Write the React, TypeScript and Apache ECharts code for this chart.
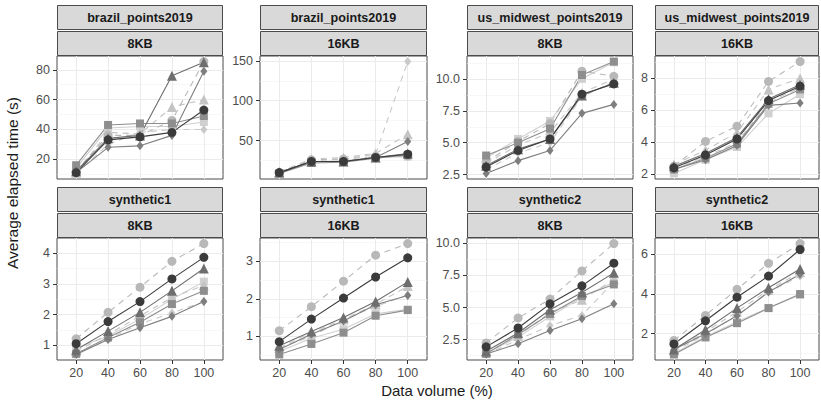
import React, { useEffect, useRef } from "react";
import * as echarts from "echarts";

// ---------- data ----------
const xValues = [20, 40, 60, 80, 100];

const datasetLabels = [
  "brazil_points2019", "brazil_points2019", "us_midwest_points2019", "us_midwest_points2019",
  "synthetic1", "synthetic1", "synthetic2", "synthetic2",
];
const blockLabels = ["8KB", "16KB", "8KB", "16KB", "8KB", "16KB", "8KB", "16KB"];

const seriesNames = [
  "circle-dark", "circle-light", "triangle-dark", "triangle-light",
  "square-dark", "square-light", "diamond-dark", "diamond-light",
];

// rows: one per series (order of seriesNames), columns: x = 20..100
const brazil8KB = [
  [11, 33, 35, 38, 53],
  [12, 36, 36, 46, 85.5],
  [12, 34, 36, 76, 85],
  [11, 38, 37, 55, 60],
  [16, 43, 44, 44, 49],
  [14, 41, 42, 42, 45],
  [11, 28, 29, 36, 79],
  [10.5, 30, 38, 40, 40],
];
const brazil16KB = [
  [10, 24, 24, 29, 33],
  [10, 26, 27, 30, 31],
  [10, 24, 24, 29, 34],
  [11, 27, 29, 34, 58],
  [9, 22, 23, 28, 32],
  [9, 23, 25, 29, 30],
  [10, 24, 24, 29, 49],
  [10, 25, 27, 33, 149],
];
const midwest8KB = [
  [3.1, 4.4, 5.3, 8.8, 9.6],
  [3.5, 5.1, 6.5, 10.6, 10.2],
  [3.2, 4.5, 5.3, 8.7, 9.7],
  [3.4, 4.8, 5.8, 8.9, 10.0],
  [4.0, 5.0, 6.1, 10.3, 11.35],
  [3.8, 5.3, 6.7, 10.0, 11.3],
  [2.6, 3.6, 4.4, 7.3, 8.0],
  [2.9, 4.2, 5.0, 8.6, 9.8],
];
const midwest16KB = [
  [2.4, 3.2, 4.2, 6.6, 7.5],
  [2.5, 4.05, 5.0, 7.8, 9.04],
  [2.5, 3.3, 4.3, 6.7, 7.6],
  [2.6, 3.5, 4.6, 7.3, 8.0],
  [2.3, 3.0, 3.9, 6.4, 7.3],
  [2.05, 2.9, 3.7, 5.8, 7.0],
  [2.3, 2.9, 3.8, 6.3, 6.45],
  [2.4, 3.1, 4.0, 6.5, 7.4],
];
const synthetic1_8KB = [
  [1.05, 1.77, 2.42, 3.16, 3.86],
  [1.21, 2.07, 2.89, 3.73, 4.31],
  [0.85, 1.46, 2.07, 2.77, 3.5],
  [0.8, 1.35, 1.95, 2.55, 2.95],
  [0.72, 1.25, 1.75, 2.34, 2.77],
  [0.9, 1.3, 1.85, 2.5, 3.07],
  [0.7, 1.19, 1.57, 1.94, 2.42],
  [0.72, 1.2, 1.7, 2.05, 2.42],
];
const synthetic1_16KB = [
  [0.86, 1.46, 2.02, 2.58, 3.09],
  [1.15, 1.79, 2.47, 3.16, 3.47],
  [0.75, 1.13, 1.5, 1.93, 2.45],
  [0.7, 1.0, 1.45, 1.85, 2.34],
  [0.52, 0.8, 1.1, 1.55, 1.7],
  [0.6, 0.95, 1.19, 1.6, 1.72],
  [0.65, 1.06, 1.41, 1.84, 2.09],
  [0.7, 1.1, 1.45, 1.8, 2.1],
];
const synthetic2_8KB = [
  [1.94, 3.41, 5.29, 6.69, 8.45],
  [2.25, 4.19, 5.66, 7.85, 9.98],
  [1.6, 3.02, 4.83, 6.17, 7.7],
  [1.5, 2.8, 4.6, 5.6, 7.2],
  [1.4, 2.9, 4.5, 5.9, 6.8],
  [1.45, 2.7, 4.31, 5.8, 6.98],
  [1.38, 2.19, 3.22, 4.13, 5.29],
  [1.35, 2.5, 3.6, 4.39, 7.0],
];
const synthetic2_16KB = [
  [1.48, 2.65, 3.84, 4.91, 6.25],
  [1.66, 2.92, 4.24, 5.55, 6.55],
  [1.2, 2.2, 3.29, 4.32, 5.26],
  [1.15, 2.1, 3.1, 4.2, 5.1],
  [0.95, 1.81, 2.53, 3.29, 4.0],
  [1.0, 1.85, 2.6, 3.3, 3.95],
  [1.2, 2.0, 2.9, 4.1, 5.0],
  [1.1, 1.95, 2.92, 4.1, 4.9],
];

const ticksBrazil8KB = [20, 40, 60, 80];
const ticksBrazil16KB = [50, 100, 150];
const ticksMidwest8KB = [2.5, 5.0, 7.5, 10.0];
const ticksMidwest16KB = [2, 4, 6, 8];
const ticksSynthetic1_8KB = [1, 2, 3, 4];
const ticksSynthetic1_16KB = [1, 2, 3];
const ticksSynthetic2_8KB = [2.5, 5.0, 7.5, 10.0];
const ticksSynthetic2_16KB = [2, 4, 6];

const panelValues = [brazil8KB, brazil16KB, midwest8KB, midwest16KB, synthetic1_8KB, synthetic1_16KB, synthetic2_8KB, synthetic2_16KB];
const panelTicks = [ticksBrazil8KB, ticksBrazil16KB, ticksMidwest8KB, ticksMidwest16KB, ticksSynthetic1_8KB, ticksSynthetic1_16KB, ticksSynthetic2_8KB, ticksSynthetic2_16KB];
const panelDecimals = [0, 0, 1, 0, 0, 0, 1, 0];

// ---------- styles ----------
const FONT = "Liberation Sans, Arial, sans-serif";
const seriesStyles = [
  { symbol: "circle", color: "#3b3b3b", dash: "solid", size: 9 },
  { symbol: "circle", color: "#b8b8b8", dash: [6, 5], size: 9 },
  { symbol: "triangle", color: "#6e6e6e", dash: "solid", size: 10 },
  { symbol: "triangle", color: "#c4c4c4", dash: [6, 5], size: 10 },
  { symbol: "rect", color: "#8e8e8e", dash: "solid", size: 8 },
  { symbol: "rect", color: "#d0d0d0", dash: "solid", size: 8 },
  { symbol: "diamond", color: "#7e7e7e", dash: "solid", size: [7, 9] },
  { symbol: "diamond", color: "#c9c9c9", dash: [6, 5], size: [7, 9] },
];
const drawOrder = [5, 7, 3, 1, 4, 6, 2, 0];

const colLeft = [57, 260, 467, 655];
const colWidth = [166, 167, 166, 164];
const rowTop = [56, 238];
const rowHeight = [123, 122];

export default function App() {
  const ref = useRef<HTMLDivElement>(null);
  useEffect(() => {
    if (!ref.current) return;
    const chart = echarts.init(ref.current, undefined, { renderer: "svg" });
    const grid: any[] = [];
    const xAxis: any[] = [];
    const yAxis: any[] = [];
    const series: any[] = [];
    const graphic: any[] = [];

    for (let p = 0; p < 8; p++) {
      const row = p < 4 ? 0 : 1;
      const col = p % 4;
      const left = colLeft[col];
      const width = colWidth[col];
      const top = rowTop[row];
      const height = rowHeight[row];
      grid.push({
        left, top, width, height, show: true,
        backgroundColor: "#ffffff", borderColor: "#4a4a4a", borderWidth: 1, z: 0,
      });
      const vals = panelValues[p];
      let lo = Infinity, hi = -Infinity;
      vals.forEach((r) => r.forEach((v) => { lo = Math.min(lo, v); hi = Math.max(hi, v); }));
      const pad = (hi - lo) * 0.05;
      const yMin = lo - pad, yMax = hi + pad;
      const ticks = panelTicks[p];
      const step = ticks[1] - ticks[0];
      const minor: number[] = [];
      for (let v = ticks[0] - step / 2; v <= yMax; v += step) if (v >= yMin) minor.push(v);
      const dec = panelDecimals[p];

      xAxis.push({
        type: "value", gridIndex: p, min: 8, max: 112,
        axisLine: { show: false },
        axisTick: { show: row === 1, length: 4, lineStyle: { color: "#333" }, customValues: xValues },
        axisLabel: {
          show: row === 1, customValues: xValues, margin: 6, color: "#4d4d4d",
          fontSize: 12.5, fontFamily: FONT,
        },
        splitLine: { show: true, lineStyle: { color: "#ebebeb", width: 1 } },
      });
      yAxis.push({
        type: "value", gridIndex: p, min: yMin, max: yMax,
        axisLine: { show: false },
        axisTick: { show: true, length: 4, lineStyle: { color: "#333" }, customValues: ticks },
        axisLabel: {
          customValues: ticks, margin: 7, color: "#4d4d4d", fontSize: 12.5, fontFamily: FONT,
          formatter: (v: number) => v.toFixed(dec),
        },
        splitLine: { show: true, lineStyle: { color: "#ebebeb", width: 1 } },
      });
      // minor gridlines axis
      yAxis.push({
        type: "value", gridIndex: p, min: yMin, max: yMax, position: "left",
        axisLine: { show: false },
        axisTick: { show: false, customValues: minor },
        axisLabel: { show: false },
        splitLine: { show: true, lineStyle: { color: "#f2f2f2", width: 0.6 } },
      });

      drawOrder.forEach((s) => {
        const st = seriesStyles[s];
        series.push({
          type: "line",
          name: seriesNames[s],
          xAxisIndex: p,
          yAxisIndex: p * 2,
          data: xValues.map((x, i) => [x, vals[s][i]]),
          symbol: st.symbol,
          symbolSize: st.size,
          showSymbol: true,
          lineStyle: { color: st.color, width: 1.1, type: st.dash },
          itemStyle: { color: st.color },
          z: 3,
          silent: true,
        });
      });

      // strips
      const stripTop = top - 51;
      [datasetLabels[p], blockLabels[p]].forEach((txt, k) => {
        const y = stripTop + k * 26;
        graphic.push({
          type: "rect",
          shape: { x: left + 0.5, y: y + 0.5, width: width - 1, height: 24 },
          style: { fill: "#d9d9d9", stroke: "#4a4a4a", lineWidth: 1 },
          silent: true,
        });
        graphic.push({
          type: "text",
          x: left + width / 2,
          y: y + 12.5,
          style: {
            text: txt, fill: "#1a1a1a", font: `bold 12.6px ${FONT}`,
            align: "center", verticalAlign: "middle",
          },
          silent: true,
        });
      });
    }

    graphic.push({
      type: "text", x: 437, y: 390,
      style: { text: "Data volume (%)", fill: "#1a1a1a", font: `15px ${FONT}`, align: "center", verticalAlign: "middle" },
    });
    graphic.push({
      type: "text", x: 12, y: 183, rotation: Math.PI / 2,
      style: { text: "Average elapsed time (s)", fill: "#1a1a1a", font: `15.5px ${FONT}`, align: "center", verticalAlign: "middle" },
    });

    chart.setOption({
      animation: false,
      backgroundColor: "#ffffff",
      grid, xAxis, yAxis, series, graphic,
    });
    return () => chart.dispose();
  }, []);
  return <div ref={ref} style={{ position: "absolute", left: 0, top: 0, width: 821, height: 403 }} />;
}
